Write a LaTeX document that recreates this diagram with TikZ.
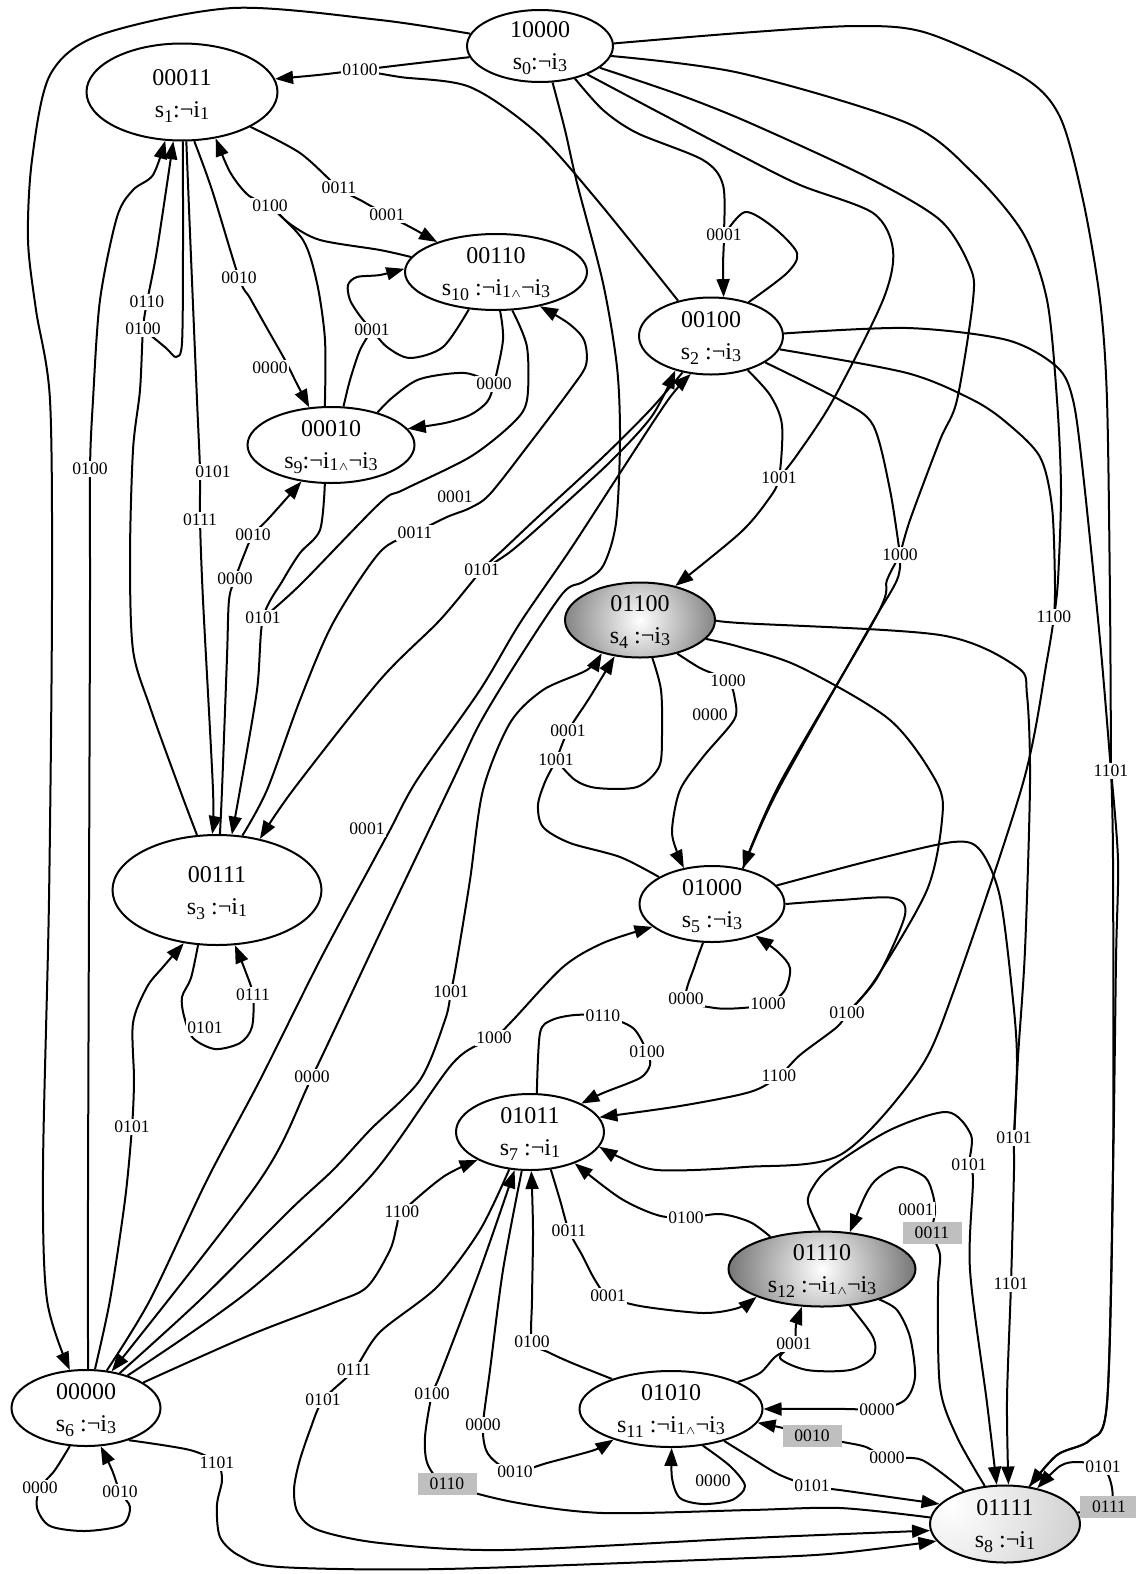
\documentclass[tikz,border=0pt]{standalone}
\usepackage{fontspec}
\setmainfont{Liberation Serif}
\usetikzlibrary{shapes.geometric,arrows.meta}
\pgfdeclarelayer{bg}
\pgfsetlayers{bg,main}
% subscripts: state index (lowered) and input index (slightly lowered)
\newcommand\ssub[1]{\raisebox{-0.45ex}{\fontsize{9}{9}\selectfont #1}}
\newcommand\isub[1]{\raisebox{-0.15ex}{\fontsize{9}{9}\selectfont #1}}
\newcommand\wdg{$\scriptstyle\wedge$}
\begin{document}
\begin{tikzpicture}[x=0.5pt,y=-0.5pt,
  st/.style={ellipse, draw, line width=1pt, fill=white, inner sep=0pt},
  txt/.style={align=center, font=\fontsize{12}{16}\selectfont, inner sep=0pt},
  lab/.style={font=\fontsize{8.8}{10}\selectfont, fill=white, inner sep=0.8pt},
  hl/.style={lab, fill=black!25, minimum width=29.5pt, minimum height=11pt, inner sep=0pt},
  e/.style={line width=1pt},
  ea/.style={e, -{Triangle[length=9pt,width=6.5pt]}},
]
\useasboundingbox (0,0) rectangle (1135,1574);

% ---------- states ----------
\node[st,minimum width=73pt,minimum height=36pt] (s0) at (540,46) {};
\node[st,minimum width=95.5pt,minimum height=48.5pt] (s1) at (182,92) {};
\node[st,minimum width=91pt,minimum height=38pt] (s10) at (496,272) {};
\node[st,minimum width=72pt,minimum height=38.5pt] (s2) at (711,336) {};
\node[st,minimum width=83.5pt,minimum height=38pt] (s9) at (331,445) {};
\node[st,minimum width=75pt,minimum height=37.5pt,
  path picture={\shade[inner color=white,outer color=black!82] (path picture bounding box.center) circle (64pt);}] (s4) at (640,620) {};
\node[st,minimum width=104.5pt,minimum height=55pt] (s3) at (217,890) {};
\node[st,minimum width=72.5pt,minimum height=38pt] (s5) at (712,904) {};
\node[st,minimum width=74pt,minimum height=38pt] (s7) at (530,1132) {};
\node[st,minimum width=93.5pt,minimum height=37.5pt,
  path picture={\shade[inner color=white,outer color=black!92] (path picture bounding box.center) circle (80pt);}] (s12) at (822,1269) {};
\node[st,minimum width=91.5pt,minimum height=38pt] (s11) at (671,1409) {};
\node[st,minimum width=74.5pt,minimum height=38pt] (s6) at (86,1408) {};
\node[st,minimum width=75pt,minimum height=38.5pt,
  path picture={\shade[inner color=white,outer color=black!42] ([shift={(-27.5pt,9.5pt)}]path picture bounding box.center) circle (150pt);}] (s8) at (1005,1524) {};

\node[txt] (t0) at (540,48) {10000\\s\ssub{0}:¬i\isub{3}};
\node[txt] (t1) at (182,96) {00011\\s\ssub{1}:¬i\isub{1}};
\node[txt] (t10) at (496,274) {00110\\s\ssub{10} :¬i\isub{1\wdg}¬i\isub{3}};
\node[txt] (t2) at (711,338) {00100\\s\ssub{2} :¬i\isub{3}};
\node[txt] (t9) at (331,447) {00010\\s\ssub{9}:¬i\isub{1\wdg}¬i\isub{3}};
\node[txt] (t4) at (640,622) {01100\\s\ssub{4} :¬i\isub{3}};
\node[txt] (t3) at (217,893) {00111\\s\ssub{3} :¬i\isub{1}};
\node[txt] (t5) at (712,906) {01000\\s\ssub{5} :¬i\isub{3}};
\node[txt] (t7) at (530,1134) {01011\\s\ssub{7} :¬i\isub{1}};
\node[txt] (t12) at (822,1271) {01110\\s\ssub{12} :¬i\isub{1\wdg}¬i\isub{3}};
\node[txt] (t11) at (671,1411) {01010\\s\ssub{11} :¬i\isub{1\wdg}¬i\isub{3}};
\node[txt] (t6) at (86,1410) {00000\\s\ssub{6} :¬i\isub{3}};
\node[txt] (t8) at (1005,1526) {01111\\s\ssub{8} :¬i\isub{1}};

% ---------- edge labels ----------
\node[lab] (l1) at (360,70) {0100};
\node[lab] (l2) at (339,188) {0011};
\node[lab] (l3) at (387,215) {0001};
\node[lab] (l4) at (270,206) {0100};
\node[lab] (l5) at (239,278) {0010};
\node[lab] (l6) at (270,368) {0000};
\node[lab] (l7) at (147,302) {0110};
\node[lab] (l8) at (143,329) {0100};
\node[lab] (l9) at (724,235) {0001};
\node[lab] (l10) at (372,330) {0001};
\node[lab] (l11) at (494,384) {0000};
\node[lab] (l12) at (90,469) {0100};
\node[lab] (l13) at (213,472) {0101};
\node[lab] (l14) at (200,520) {0111};
\node[lab] (l15) at (253,535) {0010};
\node[lab] (l16) at (235,579) {0000};
\node[lab] (l17) at (263,618) {0101};
\node[lab] (l18) at (455,497) {0001};
\node[lab] (l19) at (415,533) {0011};
\node[lab] (l20) at (482,570) {0101};
\node[lab] (l21) at (779,478) {1001};
\node[lab] (l22) at (900,555) {1000};
\node[lab] (l23) at (1054,617) {1100};
\node[lab] (l24) at (1111,771) {1101};
\node[lab] (l25) at (728,681) {1000};
\node[lab] (l26) at (710,715) {0000};
\node[lab] (l27) at (568,731) {0001};
\node[lab] (l28) at (556,760) {1001};
\node[lab] (l29) at (367,829) {0001};
\node[lab] (l30) at (312,1077) {0000};
\node[lab] (l31) at (451,992) {1001};
\node[lab] (l32) at (494,1038) {1000};
\node[lab] (l33) at (132,1127) {0101};
\node[lab] (l34) at (205,1028) {0101};
\node[lab] (l35) at (253,995) {0111};
\node[lab] (l36) at (686,999) {0000};
\node[lab] (l37) at (768,1004) {1000};
\node[lab] (l38) at (847,1013) {0100};
\node[lab] (l39) at (779,1076) {1100};
\node[lab] (l40) at (603,1016) {0110};
\node[lab] (l41) at (647,1052) {0100};
\node[lab] (l42) at (1014,1138) {0101};
\node[lab] (l43) at (969,1165) {0101};
\node[lab] (l44) at (402,1212) {1100};
\node[lab] (l45) at (569,1231) {0011};
\node[lab] (l46) at (608,1296) {0001};
\node[lab] (l47) at (686,1218) {0100};
\node[lab] (l48) at (916,1210) {0001};
\node[hl]  (l49) at (932,1233) {0011};
\node[lab] (l50) at (1011,1284) {1101};
\node[lab] (l51) at (532,1342) {0100};
\node[lab] (l52) at (794,1344) {0001};
\node[lab] (l53) at (354,1370) {0111};
\node[lab] (l54) at (323,1400) {0101};
\node[lab] (l55) at (432,1394) {0100};
\node[lab] (l56) at (483,1425) {0000};
\node[lab] (l57) at (877,1410) {0000};
\node[hl]  (l58) at (812,1436) {0010};
\node[lab] (l59) at (887,1458) {0000};
\node[hl]  (l60) at (447,1484) {0110};
\node[lab] (l61) at (515,1472) {0010};
\node[lab] (l62) at (713,1481) {0000};
\node[lab] (l63) at (812,1486) {0101};
\node[lab] (l64) at (217,1463) {1101};
\node[lab] (l65) at (40,1488) {0000};
\node[lab] (l66) at (120,1492) {0010};
\node[lab] (l67) at (1103,1467) {0101};
\node[hl]  (l68) at (1109,1507) {0111};

% ---------- transitions ----------
\begin{pgfonlayer}{bg}
\fill[white] (0,0) rectangle (1135,1574);
% out of 10000
\draw[ea] plot[smooth] coordinates {(s0.170) (380,20) (233,8) (100,35) (50,75) (32,160) (28,240) (36,310) (50,400) (52,600) (49,900) (43,1170) (47,1300) (s6.113)};
\draw[ea] plot[smooth] coordinates {(s0.189) (410,64) (l1.center) (318,75) (s1.8)};
\draw[e] plot[smooth] coordinates {(s2.133) (597,200) (537,133) (470,87) (400,77) (l1.center)};
\draw[ea] plot[smooth] coordinates {(s0.-43) (603,110) (637,133) (703,160) (723,185) (l9.center) (723,265) (s2.72)};
\draw[e] plot[smooth] coordinates {(s2.42) (787,273) (797,253) (773,227) (745,212) (l9.center)};
\draw[e] plot[smooth] coordinates {(s0.-31) (660,113) (740,155) (800,185) (873,213) (893,250) (883,300) (833,400) (797,455) (l21.center)};
\draw[ea] plot[smooth] coordinates {(s2.-43) (770,395) (782,425) (l21.center) (768,500) (740,533) (s4.44)};
\draw[e] plot[smooth] coordinates {(s0.-20) (680,95) (750,123) (867,177) (940,220) (970,267) (973,300) (957,400) (940,440) (910,520) (l22.center)};
\draw[e] plot[smooth] coordinates {(s2.-26) (840,400) (873,425) (890,490) (l22.center)};
\draw[ea] plot[smooth] coordinates {(l22.center) (887,580) (877,615) (780,783) (s5.49)};
\draw[e] plot[smooth] coordinates {(l22.center) (897,580) (867,632) (777,792) (s5.49)};
\draw[e] plot[smooth] coordinates {(s0.-8) (740,73) (907,123) (973,173) (1023,233) (1047,300) (1057,400) (1061,490) (1058,580) (l23.center)};
\draw[e] plot[smooth] coordinates {(s2.-11) (907,373) (973,400) (1007,423) (1040,457) (1052,507) (1055,585) (l23.center)};
\draw[ea] plot[smooth] coordinates {(l23.center) (1047,660) (1023,783) (953,993) (917,1073) (840,1155) (745,1167) (657,1170) (617,1156) (s7.-12)};
\draw[e] plot[smooth] coordinates {(s0.2) (740,33) (857,26) (927,33) (1023,77) (1060,117) (1083,200) (1100,300) (1107,400) (1110,600) (l24.center)};
\draw[e] plot[smooth] coordinates {(s2.2) (907,328) (1007,340) (1057,367) (1073,400) (1083,473) (1100,640) (l24.center)};
\draw[ea] plot[smooth] coordinates {(l24.center) (1113,860) (1113,1170) (1107,1403) (1090,1440) (1057,1455) (s8.57)};
\draw[e] plot[smooth] coordinates {(l24.center) (1118,860) (1116,960) (1113,1170) (1107,1403) (1090,1440) (1057,1455) (s8.57)};
\draw[ea] plot[smooth] coordinates {(s0.-71) (565,130) (577,183) (603,283) (617,367) (620,440) (616,523) (603,566) (583,582) (563,593) (520,657) (480,723) (453,780) (380,933) (l30.center) (260,1180) (s6.55)};
% around 00100
\draw[ea] plot[smooth] coordinates {(s6.61) (150,1300) (207,1180) (260,1080) (320,960) (370,867) (390,830) (417,780) (480,690) (520,623) (570,550) (620,473) (668,400) (s2.-118)};
\draw[ea] plot[smooth] coordinates {(s2.-128) (650,410) (603,457) (540,515) (505,548) (l20.center) (440,620) (380,680) (293,790) (s3.50)};
\draw[ea] plot[smooth] coordinates {(l20.center) (510,552) (548,519) (610,462) (652,416) (s2.-136)};
% out of 00000
\draw[ea] plot[smooth] coordinates {(s6.46) (200,1300) (290,1210) (333,1170) (370,1130) (420,1080) (445,1020) (l31.center) (457,960) (470,880) (483,790) (510,723) (543,690) (587,670) (s4.221)};
\draw[ea] plot[smooth] coordinates {(s6.38) (250,1290) (370,1177) (453,1063) (l32.center) (513,1020) (563,967) (603,943) (s5.201)};
\draw[ea] plot[smooth] coordinates {(s6.24) (250,1335) (333,1303) (367,1287) (390,1250) (397,1225) (l44.center) (443,1177) (s7.208)};
\draw[ea] plot[smooth] coordinates {(s6.-37) (190,1450) (l64.center) (222,1480) (217,1505) (220,1537) (240,1556) (280,1567) (443,1569) (750,1558) (840,1553) (s8.194)};
\draw[ea] plot[smooth] coordinates {(s6.87) (88,1200) (89,900) (90,600) (l12.center) (93,400) (100,300) (117,217) (133,190) (153,175) (s1.251)};
\draw[ea] plot[smooth] coordinates {(s6.77) (110,1300) (125,1200) (l33.center) (134,1080) (133,1023) (147,987) (163,967) (s3.238)};
\draw[ea] plot[smooth] coordinates {(s6.-113) (55,1470) (l65.center) (37,1508) (50,1526) (85,1531) (122,1525) (130,1507) (l66.center) (112,1470) (s6.-69)};
% upper left cluster
\draw[ea] plot[smooth] coordinates {(s1.-27) (300,153) (l2.center) (362,201) (l3.center) (412,228) (s10.153)};
\draw[ea] plot[smooth] coordinates {(s10.170) (380,250) (320,240) (290,224) (l4.center) (248,195) (230,172) (s1.-54)};
\draw[e] plot[smooth] coordinates {(s9.99) (325,340) (317,283) (303,240) (l4.center)};
\draw[ea] plot[smooth] coordinates {(s1.-76) (212,190) (l5.center) (250,298) (268,330) (285,360) (296,382) (s9.120)};
\draw[e] plot[smooth] coordinates {(s1.-89) (183,250) (182,343) (176,357) (166,348) (l8.center)};
\draw[ea] plot[smooth] coordinates {(s3.110) (180,790) (150,707) (133,650) (130,557) (133,450) (140,390) (l8.center) (l7.center) (157,250) (s1.-100)};
\draw[ea] plot[smooth] coordinates {(s1.-85) (190,233) (197,400) (200,470) (200,520) (203,600) (213,790) (s3.95)};
\draw[ea] plot[smooth] coordinates {(s9.-99) (320,530) (300,553) (283,580) (l17.center) (257,690) (240,790) (s3.75)};
\draw[e] plot[smooth] coordinates {(s10.-67) (527,347) (527,400) (513,423) (470,457) (403,490) (380,503) (300,585) (l17.center)};
\draw[ea] plot[smooth] coordinates {(s3.87) (222,790) (227,657) (229,600) (l16.center) (244,555) (l15.center) (270,517) (s9.-129)};
\draw[ea] plot[smooth] coordinates {(s3.65) (267,790) (300,700) (333,623) (380,552) (l19.center) (447,517) (470,508) (490,494) (530,443) (570,390) (586,365) (584,340) (568,323) (s10.-38)};
\draw[ea] plot[smooth] coordinates {(s10.-126) (443,347) (410,358) (387,347) (l10.center) (360,316) (350,300) (348,285) (357,277) (380,275) (s10.178)};
\draw[e] plot[smooth] coordinates {(s9.72) (350,380) (360,350) (l10.center)};
\draw[ea] plot[smooth] coordinates {(s10.-84) (503,340) (l11.center) (487,402) (470,415) (445,423) (s9.12)};
\draw[e] plot[smooth] coordinates {(s9.35) (393,397) (420,379) (465,373) (l11.center)};
% loop on 00111
\draw[ea] plot[smooth] coordinates {(s3.-109) (191,978) (182,997) (184,1016) (193,1038) (215,1049) (240,1043) (252,1027) (l35.center) (245,970) (s3.-72)};
% middle
\draw[ea] plot[smooth] coordinates {(s4.-42) (700,668) (l25.center) (735,700) (734,720) (703,757) (680,790) (672,830) (677,852) (s5.128)};
\draw[ea] plot[smooth] coordinates {(s5.153) (620,857) (570,843) (543,827) (538,805) (545,782) (l28.center) (l27.center) (590,697) (s4.-125)};
\draw[e] plot[smooth] coordinates {(s4.-72) (661,690) (662,735) (659,767) (637,787) (597,788) (575,780) (l28.center)};
\draw[ea] plot[smooth] coordinates {(s5.-103) (695,965) (l36.center) (715,1008) (742,1008) (l37.center) (785,990) (790,968) (778,952) (s5.-36)};
\draw[e] plot[smooth] coordinates {(s4.-16) (740,647) (800,667) (890,720) (937,783) (942,820) (927,890) (875,980) (l38.center)};
\draw[e] plot[smooth] coordinates {(s5.0) (840,900) (893,898) (905,915) (877,978) (l38.center)};
\draw[ea] plot[smooth] coordinates {(l38.center) (837,1027) (800,1055) (l39.center) (750,1092) (680,1106) (s7.12)};
\draw[ea] plot[smooth] coordinates {(s4.0) (740,623) (940,635) (1017,667) (1027,695) (1030,783) (1025,950) (1018,1057) (l42.center) (1014,1170) (l50.center) (1007,1400) (s8.85)};
\draw[e] plot[smooth] coordinates {(s5.16) (873,860) (953,842) (980,850) (1000,897) (1013,1000) (1017,1060) (l42.center)};
% lower part
\draw[ea] plot[smooth] coordinates {(s7.80) (540,1033) (552,1020) (575,1015) (l40.center) (633,1028) (l41.center) (650,1065) (640,1078) (603,1093) (s7.29)};
\draw[ea] plot[smooth] coordinates {(s12.148) (750,1222) (720,1214) (l47.center) (657,1215) (620,1198) (s7.-35)};
\draw[ea] plot[smooth] coordinates {(s7.-61) (560,1200) (l45.center) (582,1255) (595,1280) (l46.center) (640,1306) (703,1313) (738,1308) (s12.203)};
\draw[ea] plot[smooth] coordinates {(s11.153) (572,1363) (548,1352) (l51.center) (532,1300) (533,1230) (s7.-88)};
\draw[ea] plot[smooth] coordinates {(s7.-102) (503,1270) (490,1370) (l56.center) (486,1450) (497,1463) (l61.center) (547,1463) (577,1455) (597,1449) (s11.208)};
\draw[ea] plot[smooth] coordinates {(s8.175) (840,1508) (750,1510) (603,1513) (513,1502) (l60.center) (428,1465) (425,1437) (l55.center) (440,1375) (480,1270) (s7.-112)};
\draw[ea] plot[smooth] coordinates {(s7.-119) (480,1230) (437,1287) (380,1332) (l53.center) (l54.center) (310,1430) (299,1463) (294,1490) (298,1513) (318,1530) (380,1543) (503,1550) (750,1538) (s8.185)};
\draw[ea] plot[smooth] coordinates {(s11.-31) (750,1457) (780,1475) (l63.center) (847,1491) (s8.163)};
\draw[ea] plot[smooth] coordinates {(s11.-49) (730,1466) (745,1486) (732,1500) (703,1504) (680,1498) (672,1478) (s11.-89)};
\draw[ea] plot[smooth] coordinates {(s11.22) (760,1373) (775,1357) (l52.center) (796,1325) (s12.-118)};
\draw[e] plot[smooth] coordinates {(s12.-53) (873,1337) (873,1357) (850,1370) (807,1370) (780,1358) (l52.center)};
\draw[ea] plot[smooth] coordinates {(s12.-28) (897,1310) (910,1337) (915,1377) (905,1400) (l57.center) (848,1409) (s11.0)};
\draw[ea] plot[smooth] coordinates {(s8.141) (922,1460) (l59.center) (866,1447) (843,1442) (l58.center) (783,1428) (s11.-9)};
\draw[ea] plot[smooth] coordinates {(s8.118) (957,1437) (940,1387) (938,1290) (940,1255) (l49.center) (935,1212) (933,1195) (925,1177) (900,1167) (878,1178) (866,1194) (s12.53)};
\draw[ea] plot[smooth] coordinates {(s12.93) (808,1203) (813,1187) (830,1168) (890,1130) (947,1112) (971,1135) (l43.center) (973,1180) (970,1270) (987,1403) (s8.102)};
\draw[ea] plot[smooth] coordinates {(s8.9) (l68.center) (1112,1488) (l67.center) (1078,1462) (1060,1466) (s8.48)};
\end{pgfonlayer}
\end{tikzpicture}
\end{document}
